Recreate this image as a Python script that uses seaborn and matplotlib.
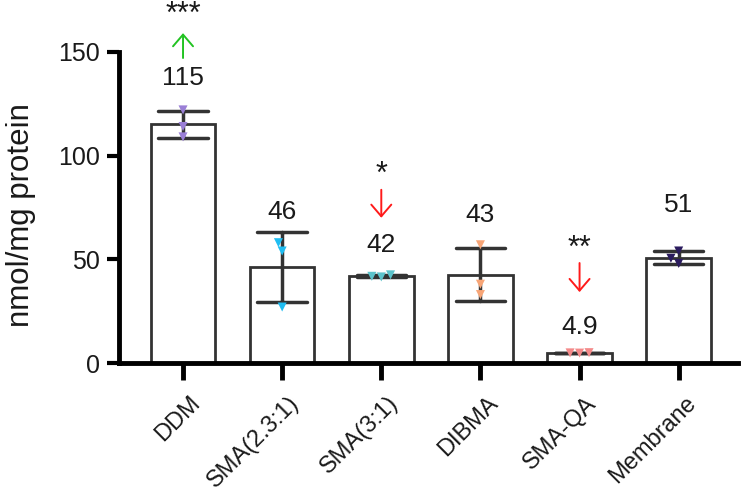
import numpy as np
import pandas as pd
import matplotlib
matplotlib.use("Agg")
import matplotlib.pyplot as plt
import matplotlib.transforms as mtransforms
import seaborn as sns

# data
groups = ["DDM", "SMA(2.3:1)", "SMA(3:1)", "DIBMA", "SMA-QA", "Membrane"]
replicates = {
    "DDM": [109, 122, 114],
    "SMA(2.3:1)": [58, 54, 27],
    "SMA(3:1)": [41.5, 42.5, 41.8],
    "DIBMA": [57, 38, 33],
    "SMA-QA": [4.8, 5.0, 4.9],
    "Membrane": [54, 50.5, 48],
}
value_labels = ["115", "46", "42", "43", "4.9", "51"]
stars = ["***", "", "*", "", "**", ""]
point_colors = ["#9a7fd6", "#1fbdf2", "#5cc3cb", "#f7a577", "#f48a8a", "#2b1b5e"]

# layout of the annotations (data units)
label_y = [137.5, 72.8, 56.9, 71.4, 17.4, 76.2]
star_y = [168, 0, 90.5, 0, 55, 0]
arrow_span = [(147, 159), None, (83.5, 70), None, (48.2, 34.2), None]
arrow_colors = ["#22c322", None, "#ff1a1a", None, "#ff1a1a", None]

df = pd.DataFrame(
    [(g, v) for g in groups for v in replicates[g]], columns=["group", "value"]
)

sns.set_style("ticks")
plt.rcParams["font.family"] = ["Liberation Sans", "DejaVu Sans"]

fig = plt.figure(figsize=(7.46, 4.98), dpi=100)
ax = fig.add_axes([0.1595, 0.271, 0.83, 0.625])

sns.barplot(
    data=df, x="group", y="value", order=groups, errorbar="sd",
    fill=False, color="#333333", linewidth=2, width=0.65, capsize=0.5,
    err_kws={"color": "#333333", "linewidth": 2.5}, ax=ax,
)
sns.swarmplot(
    data=df, x="group", y="value", order=groups, hue="group",
    palette=point_colors, marker="v", size=6.5, linewidth=0,
    legend=False, ax=ax,
)

for i, g in enumerate(groups):
    ax.text(i, label_y[i], value_labels[i], ha="center", va="center",
            fontsize=19, color="#1a1a1a")
    if stars[i]:
        ax.text(i, star_y[i], stars[i], ha="center", va="center",
                fontsize=22, color="#1a1a1a", clip_on=False)
    if arrow_span[i]:
        y0, y1 = arrow_span[i]
        ax.annotate("", xy=(i, y1), xytext=(i, y0), annotation_clip=False,
                    arrowprops=dict(arrowstyle="->,head_length=0.42,head_width=0.36",
                                    color=arrow_colors[i], lw=1.4,
                                    mutation_scale=20, shrinkA=0, shrinkB=0))

ax.set_ylim(0, 150)
ax.set_xlim(-0.646, 5.6)
ax.set_yticks([0, 50, 100, 150])
ax.set_ylabel("nmol/mg protein", fontsize=22.5, color="#1a1a1a")
ax.yaxis.set_label_coords(-0.134, 0.476)
ax.set_xlabel("")
ax.tick_params(axis="y", labelsize=18, length=9, width=3, pad=5,
               color="black", labelcolor="#1a1a1a")
ax.tick_params(axis="x", labelsize=17, length=12, width=3.5, pad=9,
               color="black", labelcolor="#1a1a1a")
shift = mtransforms.ScaledTranslation(0.06, 0, fig.dpi_scale_trans)
for lab in ax.get_xticklabels():
    lab.set_rotation(45)
    lab.set_ha("right")
    lab.set_va("top")
    lab.set_rotation_mode("anchor")
    lab.set_transform(lab.get_transform() + shift)
for s in ["left", "bottom"]:
    ax.spines[s].set_linewidth(3.5)
    ax.spines[s].set_color("black")
sns.despine(ax=ax)

fig.savefig("out.png", dpi=100)
